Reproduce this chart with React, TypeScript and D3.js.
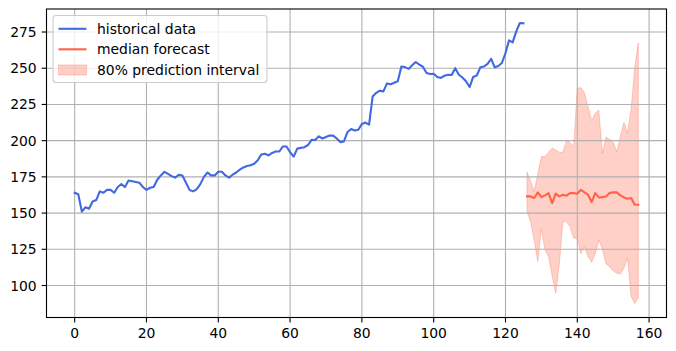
import React from "react";
import * as d3 from "d3";

const histValues = [
  164, 163, 151, 154, 153, 158, 159, 165, 164, 166,
  166, 164, 168, 170, 168, 172.5, 172, 171.5, 171, 168,
  166, 167.5, 168, 173, 176, 178.5, 177, 175.5, 174.5, 176.5,
  176, 171, 166, 165, 166.5, 170, 175, 178, 176, 176,
  178.5, 178.5, 176, 174.5, 176.5, 178, 180, 181.5, 182.5, 183,
  184, 186.5, 190.5, 191, 189.8, 191.5, 192.5, 192.5, 196, 196,
  192, 189, 194.5, 195, 195.5, 197, 200.6, 200.5, 203, 201.5,
  202.5, 203.5, 203.5, 201.5, 199, 199.5, 206, 208, 207, 207.5,
  211.5, 212.5, 211, 230.5, 233, 234.5, 234, 239.5, 239, 240,
  241, 251.2, 250.8, 249.5, 252, 254.3, 252.5, 251, 246.7, 246,
  246.2, 244, 243.3, 244.8, 245.5, 245.3, 250, 245.5, 243.6, 241,
  237, 244, 245, 250.6, 251.2, 253, 256.5, 250.6, 251.5, 253.6,
  260.5, 269.2, 267.8, 275.4, 281.2, 281,
];

const forecastStart = 126;

const forecastMedian = [
  161.5, 161.5, 160.4, 164.3, 161, 162.2, 163.8, 156.9, 163.4, 161.5,
  162.7, 162, 163.8, 163.8, 163.4, 166.1, 164.3, 162.7, 157.6, 163.8,
  160.8, 161, 161.5, 163.8, 164.3, 164.3, 162.2, 160.8, 159.9, 160.4,
  155.8, 155.8,
];

const forecastHigh = [
  178.3, 172, 165, 177, 189, 189, 192, 195, 193.5, 192,
  192, 200.5, 198.5, 196, 236.3, 236.5, 233, 223.5, 213.8, 219,
  221, 191.4, 202.3, 201, 199, 192.3, 203, 212.5, 205.2, 222,
  250.5, 267.4,
];

const forecastLow = [
  151, 144, 131, 116.6, 139, 124.7, 120, 106.5, 94.5, 115,
  144.5, 144, 140.5, 132.7, 132.5, 122, 127, 120, 116, 122,
  131.5, 125, 115, 113, 110, 108.5, 108, 112, 119, 92.4,
  87.6, 91.5,
];

const xTicks = [0, 20, 40, 60, 80, 100, 120, 140, 160];
const yTicks = [100, 125, 150, 175, 200, 225, 250, 275];

const legendLabels = ["historical data", "median forecast", "80% prediction interval"];

const W = 676;
const H = 351;
const left = 46.5;
const right = 666.5;
const top = 9;
const bottom = 317.5;

const BLUE = "#4169e1";
const TOMATO = "#ff6347";
const FONT = "DejaVu Sans, sans-serif";
const FS = 13.9;

export default function App() {
  const hist = histValues.map((v, i) => ({ x: i, y: v }));
  const fc = forecastMedian.map((v, i) => ({
    x: forecastStart + i,
    y: v,
    lo: forecastLow[i],
    hi: forecastHigh[i],
  }));

  const xMax = forecastStart + forecastMedian.length - 1;
  const xPad = (xMax - 0) * 0.05;
  const x = d3.scaleLinear().domain([0 - xPad, xMax + xPad]).range([left, right]);

  const allY = [...histValues, ...forecastLow, ...forecastHigh];
  const yMin = d3.min(allY) as number;
  const yMaxV = d3.max(allY) as number;
  const yPad = (yMaxV - yMin) * 0.05;
  const y = d3.scaleLinear().domain([yMin - yPad, yMaxV + yPad]).range([bottom, top]);

  const line = d3
    .line<{ x: number; y: number }>()
    .x((d) => x(d.x))
    .y((d) => y(d.y));
  const area = d3
    .area<{ x: number; lo: number; hi: number }>()
    .x((d) => x(d.x))
    .y0((d) => y(d.lo))
    .y1((d) => y(d.hi));

  const lgX = 53;
  const lgY = 15.5;
  const rowY = [28.8, 49.3, 70];

  return (
    <svg width={W} height={H} style={{ position: "absolute", left: 0, top: 0, background: "#fff" }}>
      <rect x={0} y={0} width={W} height={H} fill="#fff" />
      <path d={area(fc) || ""} fill={TOMATO} fillOpacity={0.3} stroke={TOMATO} strokeOpacity={0.3} strokeWidth={1} />
      <g stroke="#b0b0b0" strokeWidth={1.1}>
        {xTicks.map((t) => (
          <line key={"gx" + t} x1={x(t)} x2={x(t)} y1={top} y2={bottom} />
        ))}
        {yTicks.map((t) => (
          <line key={"gy" + t} x1={left} x2={right} y1={y(t)} y2={y(t)} />
        ))}
      </g>
      <path d={line(hist) || ""} fill="none" stroke={BLUE} strokeWidth={2.1} strokeLinejoin="round" strokeLinecap="square" />
      <path d={line(fc) || ""} fill="none" stroke={TOMATO} strokeWidth={2.1} strokeLinejoin="round" strokeLinecap="square" />
      <rect x={left} y={top} width={right - left} height={bottom - top} fill="none" stroke="#000" strokeWidth={1.1} />
      <g stroke="#000" strokeWidth={1.1}>
        {xTicks.map((t) => (
          <line key={"tx" + t} x1={x(t)} x2={x(t)} y1={bottom} y2={bottom + 4.9} />
        ))}
        {yTicks.map((t) => (
          <line key={"ty" + t} x1={left} x2={left - 4.9} y1={y(t)} y2={y(t)} />
        ))}
      </g>
      <g fontFamily={FONT} fontSize={FS} fill="#000">
        {xTicks.map((t) => (
          <text key={"lx" + t} x={x(t)} y={bottom + 9.8} dy="0.76em" textAnchor="middle">
            {t}
          </text>
        ))}
        {yTicks.map((t) => (
          <text key={"ly" + t} x={left - 9.8} y={y(t)} dy="0.36em" textAnchor="end">
            {t}
          </text>
        ))}
      </g>
      <g>
        <rect x={lgX} y={lgY} width={214} height={67} rx={3} fill="#fff" fillOpacity={0.8} stroke="#cccccc" strokeWidth={1.1} />
        <line x1={58.5} x2={86.5} y1={rowY[0]} y2={rowY[0]} stroke={BLUE} strokeWidth={2.1} />
        <line x1={58.5} x2={86.5} y1={rowY[1]} y2={rowY[1]} stroke={TOMATO} strokeWidth={2.1} />
        <rect x={58.5} y={rowY[2] - 5} width={28} height={10} fill={TOMATO} fillOpacity={0.3} stroke={TOMATO} strokeOpacity={0.3} strokeWidth={1} />
        <g fontFamily={FONT} fontSize={FS} fill="#000">
          {legendLabels.map((l, i) => (
            <text key={l} x={97} y={rowY[i]} dy="0.36em">
              {l}
            </text>
          ))}
        </g>
      </g>
    </svg>
  );
}
